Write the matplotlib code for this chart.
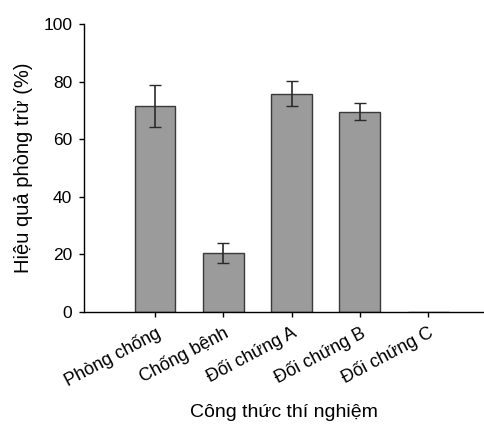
import matplotlib
matplotlib.use("Agg")
import matplotlib.pyplot as plt
import numpy as np

categories = ["Phòng chống", "Chống bệnh", "Đối chứng A", "Đối chứng B", "Đối chứng C"]
values = [71.5, 20.4, 75.8, 69.5, 0.0]
errors = [7.3, 3.5, 4.4, 3.0, 0.0]
yticks = [0, 20, 40, 60, 80, 100]

plt.rcParams['font.family'] = ['Liberation Sans', 'DejaVu Sans']

fig = plt.figure(figsize=(4.84, 4.30), dpi=100)
ax = fig.add_axes([84/484, 1 - 312/430, 400/484, (312-24)/430])

x = np.arange(len(categories))
ax.bar(x, values, width=0.6, color='#9b9b9b', edgecolor='#3a3a3a', linewidth=1.0, zorder=2)
mask = [i for i in range(len(values)) if values[i] > 0]
ax.errorbar(x[mask], [values[i] for i in mask], yerr=[errors[i] for i in mask],
            fmt='none', ecolor='#2a2a2a', elinewidth=1.2, capsize=4, capthick=1.0, zorder=3)

ax.set_xlim(-1.04, 4.82)
ax.set_ylim(0, 100)
ax.set_yticks(yticks)
ax.set_xticks(x)
ax.set_xticklabels(categories, rotation=28, ha='right', rotation_mode='anchor', fontsize=13)
ax.tick_params(axis='y', labelsize=12.5, length=3.5, width=1, direction='out', pad=5)
ax.tick_params(axis='x', length=3.5, width=1, direction='out', pad=5)
for s in ['top', 'right']:
    ax.spines[s].set_visible(False)
ax.spines['left'].set_linewidth(1.0)
ax.spines['bottom'].set_linewidth(1.0)

ax.set_ylabel("Hiệu quả phòng trừ (%)", fontsize=14.5)
ax.yaxis.set_label_coords(-0.1275, 0.5)
ax.set_xlabel("Công thức thí nghiệm", fontsize=14)
ax.xaxis.set_label_coords(0.5, -0.319)

fig.savefig("out.png", dpi=100)
